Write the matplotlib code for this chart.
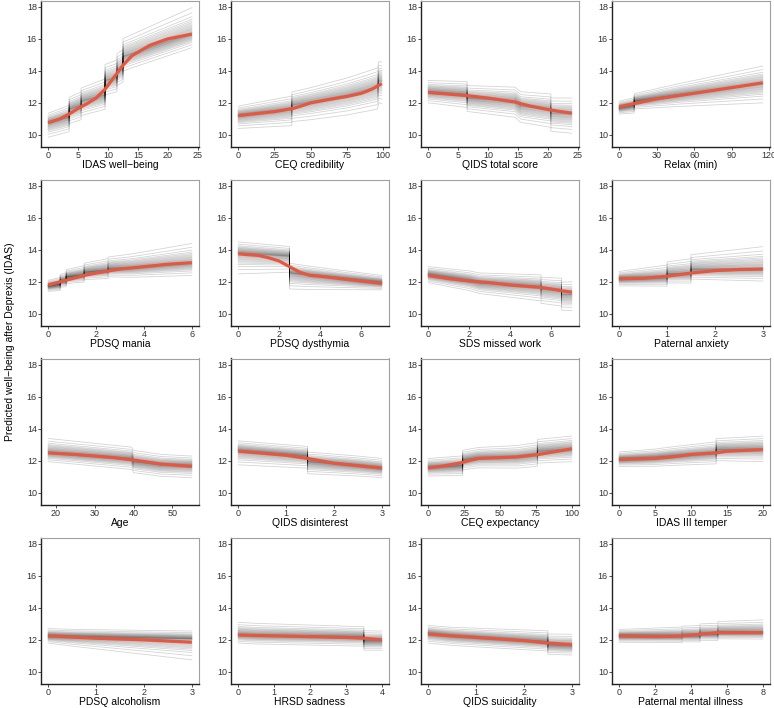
import numpy as np
import matplotlib
matplotlib.use("Agg")
import matplotlib.pyplot as plt

plt.rcParams['font.family'] = ['Liberation Sans', 'DejaVu Sans']

# predictor names, in panel order (row by row)
LABELS = ["IDAS well\u2212being", "CEQ credibility", "QIDS total score", "Relax (min)",
          "PDSQ mania", "PDSQ dysthymia", "SDS missed work", "Paternal anxiety",
          "Age", "QIDS disinterest", "CEQ expectancy", "IDAS III temper",
          "PDSQ alcoholism", "HRSD sadness", "QIDS suicidality", "Paternal mental illness"]

X_TICKS = [[0, 5, 10, 15, 20, 25], [0, 25, 50, 75, 100], [0, 5, 10, 15, 20, 25], [0, 30, 60, 90, 120],
           [0, 2, 4, 6], [0, 2, 4, 6], [0, 2, 4, 6], [0, 1, 2, 3],
           [20, 30, 40, 50], [0, 1, 2, 3], [0, 25, 50, 75, 100], [0, 5, 10, 15, 20],
           [0, 1, 2, 3], [0, 1, 2, 3, 4], [0, 1, 2, 3], [0, 2, 4, 6, 8]]

# central path of the ICE curves (repeated x = a jump)
ICE_X = [[0, 3.5, 3.5, 5.5, 5.5, 9.5, 9.5, 11.5, 11.5, 12.5, 12.5, 24],
         [0, 37, 37, 50, 75, 90, 96, 97, 99],
         [0, 6.5, 6.5, 14.5, 15.5, 20.5, 20.5, 24],
         [0, 12, 12, 47, 115],
         [0, 0.5, 0.5, 0.75, 0.75, 1.5, 1.5, 2.5, 2.5, 3.5, 6],
         [0, 2.5, 2.5, 3.5, 7],
         [0, 2, 2.5, 5.5, 5.5, 6.5, 6.5, 7],
         [0, 1, 1, 1.5, 1.5, 3],
         [18, 39.5, 40, 47, 55],
         [0, 1.45, 1.45, 2.5, 3],
         [0, 24, 24, 35, 62, 76, 76, 100],
         [0, 5, 7.5, 13.5, 13.5, 20],
         [0, 0.5, 3],
         [0, 0.5, 3.5, 3.5, 4],
         [0, 0.5, 2.5, 2.5, 3],
         [0, 3.5, 3.5, 4.5, 4.5, 5.5, 5.5, 8]]
ICE_Y = [[10.75, 11.1, 11.6, 11.85, 12.1, 12.5, 13.4, 13.6, 14.0, 14.2, 14.9, 16.35],
         [11.2, 11.6, 11.85, 12.05, 12.5, 12.85, 13.0, 13.4, 13.35],
         [12.7, 12.55, 12.3, 12.1, 11.8, 11.6, 11.35, 11.3],
         [11.7, 11.85, 12.1, 12.5, 13.2],
         [11.75, 11.85, 12.05, 12.1, 12.3, 12.45, 12.6, 12.75, 12.85, 12.9, 13.2],
         [13.8, 13.6, 12.55, 12.4, 11.95],
         [12.45, 12.1, 11.95, 11.7, 11.55, 11.45, 11.2, 11.2],
         [12.2, 12.3, 12.5, 12.55, 12.8, 12.85],
         [12.55, 12.15, 11.95, 11.75, 11.7],
         [12.65, 12.3, 11.95, 11.7, 11.55],
         [11.6, 11.7, 12.05, 12.2, 12.25, 12.4, 12.6, 12.75],
         [12.1, 12.2, 12.3, 12.5, 12.7, 12.75],
         [12.25, 12.2, 12.05],
         [12.35, 12.3, 12.2, 11.95, 11.95],
         [12.4, 12.25, 11.9, 11.7, 11.65],
         [12.25, 12.25, 12.3, 12.3, 12.4, 12.4, 12.5, 12.5]]

# spread of the ICE curves below / above the centre: (lo start, lo end, hi start, hi end)
SPREAD = [(0.9, 0.9, 0.6, 1.6), (0.8, 1.4, 0.6, 1.2), (0.7, 1.2, 0.7, 1.0), (0.4, 1.2, 0.4, 1.1),
          (0.35, 0.8, 0.35, 1.2), (1.3, 0.45, 0.7, 0.45), (0.5, 1.0, 0.5, 0.8), (0.45, 0.8, 0.45, 1.35),
          (0.6, 0.75, 0.85, 0.6), (0.9, 0.6, 0.6, 0.6), (0.55, 0.8, 0.55, 0.8), (0.45, 0.8, 0.45, 0.8),
          (0.45, 1.3, 0.45, 0.5), (0.55, 0.6, 0.75, 0.6), (0.6, 0.6, 0.5, 0.7), (0.4, 0.45, 0.4, 0.75)]

# normalised position of each individual curve inside that spread
OFFSETS = [-1.0, -0.8, -0.65, -0.55, -0.48, -0.42, -0.37, -0.32, -0.28, -0.24, -0.2, -0.17,
           -0.14, -0.11, -0.08, -0.05, -0.03, -0.01, 0.01, 0.03, 0.05, 0.08, 0.11, 0.14,
           0.17, 0.2, 0.24, 0.28, 0.32, 0.37, 0.42, 0.48, 0.55, 0.65, 0.8, 1.0]

# smoothed average curve (red)
RED_X = [[0, 2, 3.5, 5, 6.5, 8, 9.5, 11, 12.5, 14, 17, 20, 24],
         [0, 25, 38, 45, 50, 62, 75, 85, 92, 99],
         [0, 6.5, 10, 14.5, 17, 20.5, 24],
         [0, 12, 30, 60, 90, 115],
         [0, 0.5, 1, 1.5, 2, 3, 4, 5, 6],
         [0, 1, 1.5, 2, 2.5, 3, 3.5, 4, 5, 7],
         [0, 1, 2, 3, 4, 5.5, 6.5, 7],
         [0, 0.5, 1, 1.5, 2, 2.5, 3],
         [18, 25, 30, 35, 40, 47, 55],
         [0, 0.5, 1, 1.45, 2, 2.5, 3],
         [0, 12, 24, 30, 35, 50, 62, 77, 90, 100],
         [0, 2.5, 5, 7.5, 10, 13.5, 15, 20],
         [0, 1, 2, 3],
         [0, 1, 2, 3, 3.5, 4],
         [0, 0.5, 1, 1.5, 2, 2.5, 3],
         [0, 2, 3, 3.5, 4.5, 5.5, 6.5, 8]]
RED_Y = [[10.75, 11.0, 11.3, 11.65, 11.95, 12.3, 12.85, 13.6, 14.35, 14.95, 15.6, 16.0, 16.3],
         [11.2, 11.45, 11.65, 11.85, 12.0, 12.2, 12.4, 12.6, 12.85, 13.2],
         [12.65, 12.45, 12.3, 12.05, 11.8, 11.55, 11.35],
         [11.75, 11.95, 12.25, 12.6, 12.95, 13.25],
         [11.8, 12.0, 12.2, 12.4, 12.55, 12.8, 12.95, 13.1, 13.2],
         [13.75, 13.65, 13.5, 13.3, 12.95, 12.6, 12.4, 12.35, 12.2, 11.9],
         [12.4, 12.2, 12.05, 11.95, 11.8, 11.65, 11.45, 11.35],
         [12.2, 12.22, 12.35, 12.55, 12.7, 12.77, 12.8],
         [12.5, 12.4, 12.3, 12.2, 12.05, 11.8, 11.65],
         [12.6, 12.48, 12.35, 12.15, 11.85, 11.7, 11.55],
         [11.55, 11.7, 11.9, 12.05, 12.15, 12.2, 12.25, 12.4, 12.6, 12.75],
         [12.1, 12.12, 12.15, 12.25, 12.4, 12.5, 12.6, 12.7],
         [12.25, 12.1, 12.0, 11.85],
         [12.3, 12.25, 12.2, 12.15, 12.1, 12.0],
         [12.35, 12.25, 12.15, 12.05, 11.95, 11.8, 11.7],
         [12.25, 12.2, 12.22, 12.25, 12.35, 12.45, 12.45, 12.45]]

Y_TICKS = [10, 12, 14, 16, 18]
RED = "#E5573F"

W, H = 774, 708
fig = plt.figure(figsize=(W / 100, H / 100), dpi=100)

col_left = [41, 231, 421, 612]
row_top = [0.5, 179.5, 358.5, 537.5]
pw, ph = 158, 146


def draw_panel(ax, i):
    ix = np.array(ICE_X[i], dtype=float)
    iy = np.array(ICE_Y[i], dtype=float)
    lo0, lo1, hi0, hi1 = SPREAD[i]
    t = (ix - ix.min()) / (ix.max() - ix.min())
    lo = lo0 + (lo1 - lo0) * t
    hi = hi0 + (hi1 - hi0) * t
    for off in OFFSETS:
        y = iy + off * (hi if off > 0 else lo)
        ax.plot(ix, y, color="black", lw=0.6, alpha=0.17)
    ax.plot(RED_X[i], RED_Y[i], color=RED, lw=2.3, solid_capstyle="butt")

    r = ix.max() - ix.min()
    ax.set_xlim(ix.min() - 0.05 * r, ix.max() + 0.05 * r)
    ax.set_ylim(9.27, 18.4)
    ax.set_xticks(X_TICKS[i])
    ax.set_yticks(Y_TICKS)
    ax.set_xlabel(LABELS[i], fontsize=7.5, labelpad=0)
    ax.tick_params(labelsize=6.5, length=2, width=0.6, pad=1,
                   colors="#333333", labelcolor="#333333")
    for side in ["top", "right"]:
        ax.spines[side].set_color("#A0A0A0")
        ax.spines[side].set_linewidth(0.8)
    for side in ["left", "bottom"]:
        ax.spines[side].set_color("#222222")
        ax.spines[side].set_linewidth(1.0)


for i in range(16):
    r, c = divmod(i, 4)
    rect = [col_left[c] / W, 1 - (row_top[r] + ph) / H, pw / W, ph / H]
    ax = fig.add_axes(rect)
    draw_panel(ax, i)

fig.text(10 / W, 1 - 342 / H, "Predicted well\u2212being after Deprexis (IDAS)",
         rotation=90, ha="center", va="center", fontsize=7.5)

fig.savefig("out.png", dpi=100)
